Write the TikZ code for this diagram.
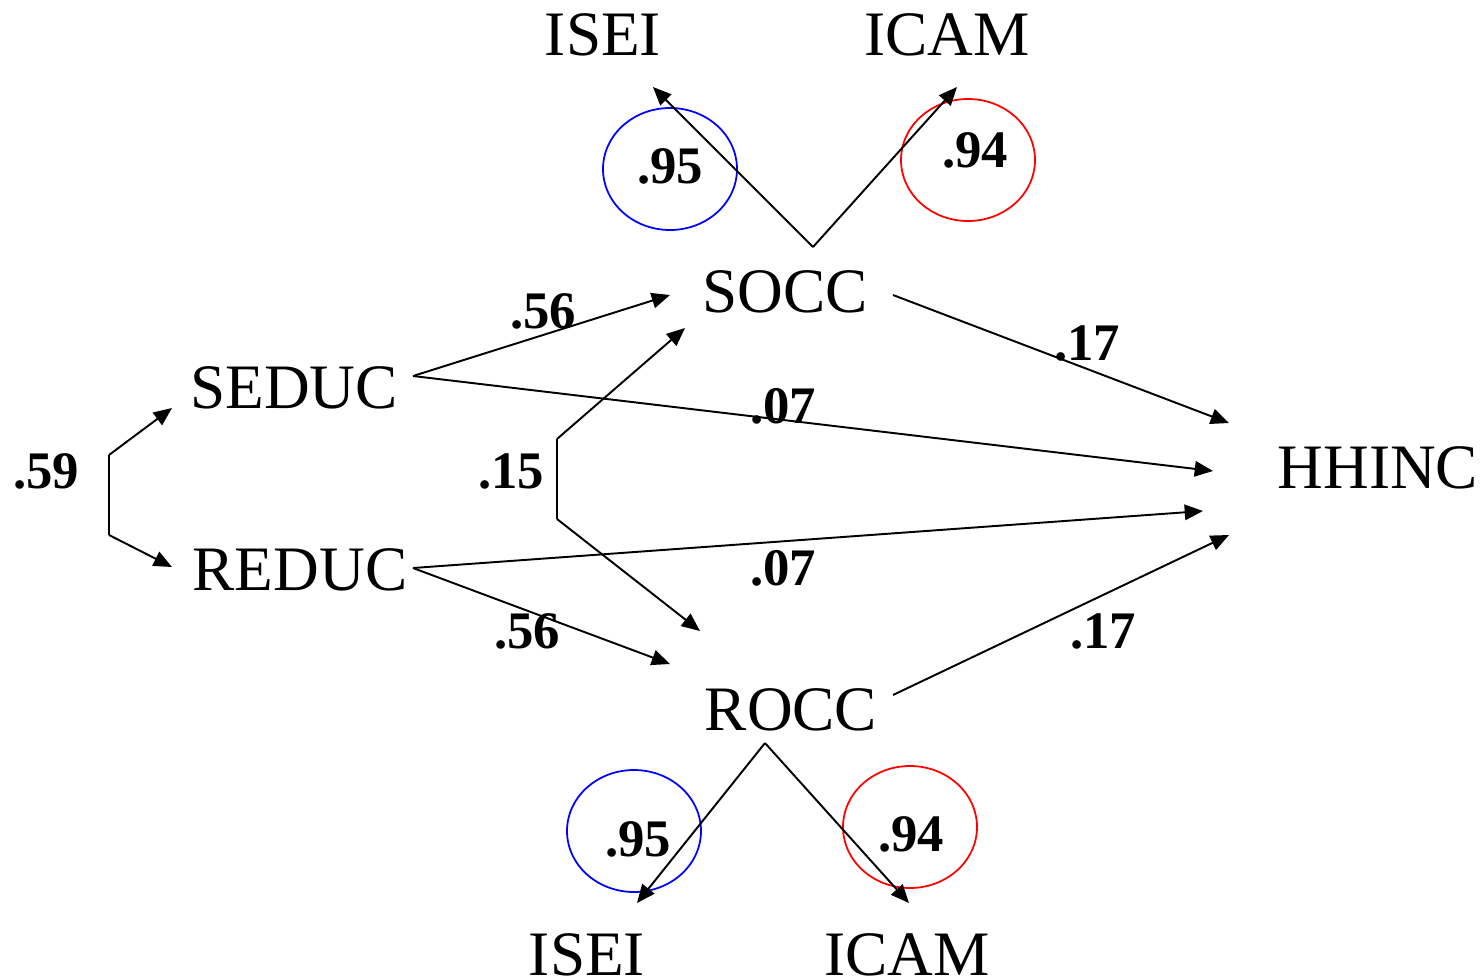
\documentclass[tikz,border=0pt]{standalone}
\usepackage{fontspec}
\setmainfont{Liberation Serif}
\usetikzlibrary{arrows.meta}
\begin{document}
\begin{tikzpicture}[x=0.01cm,y=-0.01cm,
  var/.style={anchor=base,inner sep=0pt,font=\fontsize{18}{20}\selectfont},
  lab/.style={anchor=base,inner sep=0pt,font=\fontsize{15}{17}\selectfont\bfseries},
  conn/.style={line width=0.55pt,-{Triangle[length=5.2pt,width=4.4pt]}},
  seg/.style={line width=0.55pt},
  ell/.style={line width=0.5pt}]
\useasboundingbox (0,0) rectangle (1484,978);
% variables
\node[var] (iseiT) at (603,55) {ISEI};
\node[var] (icamT) at (947,55) {ICAM};
\node[var] (socc) at (785,312) {SOCC};
\node[var] (seduc) at (294,408) {SEDUC};
\node[var] (reduc) at (300,590) {REDUC};
\node[var] (hhinc) at (1378,488) {HHINC};
\node[var] (rocc) at (791,730) {ROCC};
\node[var] (iseiB) at (587,975) {ISEI};
\node[var] (icamB) at (907,975) {ICAM};
% ellipses
\draw[ell,blue] (670,169) ellipse [x radius=67, y radius=61];
\draw[ell,red] (968,160) ellipse [x radius=67, y radius=61];
\draw[ell,blue] (634,831) ellipse [x radius=67, y radius=61];
\draw[ell,red] (910,827) ellipse [x radius=67, y radius=61];
% coordinates
\coordinate (soccV) at (813,247);
\coordinate (iseiTt) at (653,87);
\coordinate (icamTt) at (957,87);
\coordinate (roccV) at (765,743);
\coordinate (iseiBt) at (637,903);
\coordinate (icamBt) at (909,903);
\coordinate (seducR) at (413,376);
\coordinate (reducR) at (413,568);
\coordinate (soccL) at (670,295);
\coordinate (soccLb) at (685,328);
\coordinate (roccL) at (670,664);
\coordinate (roccLt) at (700,631);
\coordinate (soccR) at (893,295);
\coordinate (roccR) at (893,695);
\coordinate (hh1) at (1229,423);
\coordinate (hh2) at (1213,471);
\coordinate (hh3) at (1203,511);
\coordinate (hh4) at (1229,535);
\coordinate (c59a) at (109,455);
\coordinate (c59b) at (109,535);
\coordinate (seducL) at (172,408);
\coordinate (reducL) at (172,567);
\coordinate (c15a) at (557,439);
\coordinate (c15b) at (557,519);
% connectors
\draw[conn] (soccV) -- (iseiTt);
\draw[conn] (soccV) -- (icamTt);
\draw[conn] (roccV) -- (iseiBt);
\draw[conn] (roccV) -- (icamBt);
\draw[conn] (seducR) -- (soccL);
\draw[conn] (seducR) -- (hh2);
\draw[conn] (reducR) -- (hh3);
\draw[conn] (reducR) -- (roccL);
\draw[conn] (soccR) -- (hh1);
\draw[conn] (roccR) -- (hh4);
\draw[seg] (c59a) -- (c59b);
\draw[conn] (c59a) -- (seducL);
\draw[conn] (c59b) -- (reducL);
\draw[seg] (c15a) -- (c15b);
\draw[conn] (c15a) -- (soccLb);
\draw[conn] (c15b) -- (roccLt);
% labels
\node[lab] (l59) at (46,488) {.59};
\node[lab] (l15) at (511,488) {.15};
\node[lab] (l56a) at (543,328) {.56};
\node[lab] (l07a) at (783,423) {.07};
\node[lab] (l17a) at (1087,360) {.17};
\node[lab] (l07b) at (783,585) {.07};
\node[lab] (l56b) at (527,648) {.56};
\node[lab] (l17b) at (1103,648) {.17};
\node[lab] (l95a) at (670,183) {.95};
\node[lab] (l94a) at (975,167) {.94};
\node[lab] (l95b) at (638,856) {.95};
\node[lab] (l94b) at (911,851) {.94};
\end{tikzpicture}
\end{document}
